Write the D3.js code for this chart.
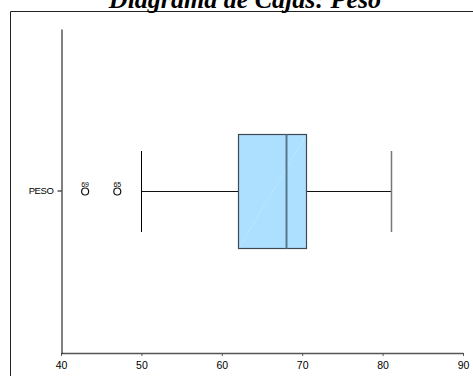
<!DOCTYPE html>
<html>
<head>
<meta charset="utf-8">
<script src="https://cdn.jsdelivr.net/npm/d3@7"></script>
<style>
  body { margin: 0; background: #fff; }
  svg text { font-family: "Liberation Sans", Arial, sans-serif; }
</style>
</head>
<body>
<div class="chart"></div>
<script>
// valores
var categories = ["PESO"];
var q1 = [62];
var median = [68];
var q3 = [70.5];
var whiskLow = [50];
var whiskHigh = [81];
var outlierValues = [43, 47];
var outlierLabels = ["69", "65"];
var xTicks = [40, 50, 60, 70, 80, 90];

var width = 473, height = 376;
var margin = {left: 61, right: 10, top: 29, bottom: 23};

var svg = d3.select(".chart").append("svg")
    .attr("width", width)
    .attr("height", height);

// marco exterior
svg.append("path")
    .attr("d", "M10.5," + height + "V11.5H" + width)
    .attr("fill", "none").attr("stroke", "#222").attr("stroke-width", 1);

svg.append("text")
    .attr("x", 245).attr("y", 8)
    .attr("text-anchor", "middle")
    .style("font-family", "'Liberation Serif', 'Times New Roman', serif")
    .style("font-weight", "bold").style("font-style", "italic")
    .style("font-size", "26px")
    .text("Diagrama de Cajas: Peso");

var x = d3.scaleLinear().domain([40, 90]).range([margin.left, 463]);
var y = d3.scaleBand().domain(categories).range([margin.top, height - margin.bottom]);
var px = function(v) { return Math.round(v) + 0.5; };
var yc = function(d) { return Math.round(y(d) + y.bandwidth() / 2) + 0.5; };

var xAxis = svg.append("g")
    .attr("transform", "translate(0," + (height - margin.bottom) + ")")
    .call(d3.axisBottom(x).tickValues(xTicks).tickSize(3).tickSizeOuter(0));
xAxis.select(".domain").attr("stroke", "#555").attr("stroke-width", 1.5);
xAxis.selectAll(".tick line").attr("stroke", "#555");
xAxis.selectAll("text").style("font-size", "10.5px").attr("fill", "#000").attr("dy", "0.95em");

var yAxis = svg.append("g")
    .attr("transform", "translate(" + (margin.left + 0.5) + ",0)")
    .call(d3.axisLeft(y).tickSize(4).tickSizeOuter(0));
yAxis.select(".domain").attr("stroke", "#000");
yAxis.selectAll(".tick line").attr("stroke", "#000");
yAxis.selectAll("text").style("font-size", "9.5px").style("fill", "#000")
    .style("letter-spacing", "-0.4px").attr("x", -8);

var boxH = 114, capH = 81;
var defs = svg.append("defs");
var grad = defs.append("linearGradient").attr("id", "shine")
    .attr("x1", "0").attr("y1", "0").attr("x2", "1").attr("y2", "1");
grad.append("stop").attr("offset", "0.497").attr("stop-color", "#addfff");
grad.append("stop").attr("offset", "0.5").attr("stop-color", "#cdebff");
grad.append("stop").attr("offset", "0.503").attr("stop-color", "#addfff");

var g = svg.append("g").selectAll("g").data(categories).enter().append("g");

g.append("line")
    .attr("x1", function(d, i) { return px(x(whiskLow[i])); })
    .attr("x2", function(d, i) { return px(x(q1[i])); })
    .attr("y1", yc).attr("y2", yc).attr("stroke", "#111");
g.append("line")
    .attr("x1", function(d, i) { return px(x(q3[i])); })
    .attr("x2", function(d, i) { return px(x(whiskHigh[i])); })
    .attr("y1", yc).attr("y2", yc).attr("stroke", "#111");
g.append("line")
    .attr("x1", function(d, i) { return px(x(whiskLow[i])); })
    .attr("x2", function(d, i) { return px(x(whiskLow[i])); })
    .attr("y1", function(d) { return yc(d) - capH / 2; })
    .attr("y2", function(d) { return yc(d) + capH / 2; })
    .attr("stroke", "#000");
g.append("line")
    .attr("x1", function(d, i) { return px(x(whiskHigh[i])); })
    .attr("x2", function(d, i) { return px(x(whiskHigh[i])); })
    .attr("y1", function(d) { return yc(d) - capH / 2; })
    .attr("y2", function(d) { return yc(d) + capH / 2; })
    .attr("stroke", "#777").attr("stroke-width", 1.5);

g.append("rect")
    .attr("x", function(d, i) { return px(x(q1[i])); })
    .attr("width", function(d, i) { return Math.round(x(q3[i]) - x(q1[i])); })
    .attr("y", function(d) { return yc(d) - boxH / 2; })
    .attr("height", boxH)
    .attr("fill", "url(#shine)").attr("stroke", "#3d4a52").attr("stroke-width", 1.2);
g.append("line")
    .attr("x1", function(d, i) { return px(x(median[i])); })
    .attr("x2", function(d, i) { return px(x(median[i])); })
    .attr("y1", function(d) { return yc(d) - boxH / 2; })
    .attr("y2", function(d) { return yc(d) + boxH / 2; })
    .attr("stroke", "#56788d").attr("stroke-width", 2);

var cy = yc(categories[0]);
var out = svg.append("g").selectAll("g").data(outlierValues).enter().append("g");
out.append("circle")
    .attr("cx", function(d) { return x(d); })
    .attr("cy", cy).attr("r", 3.5)
    .attr("fill", "#fff").attr("stroke", "#111").attr("stroke-width", 1.2);
out.append("text")
    .attr("x", function(d) { return x(d); })
    .attr("y", cy - 4.5)
    .attr("text-anchor", "middle")
    .style("font-size", "7px")
    .text(function(d, i) { return outlierLabels[i]; });
</script>
</body>
</html>
